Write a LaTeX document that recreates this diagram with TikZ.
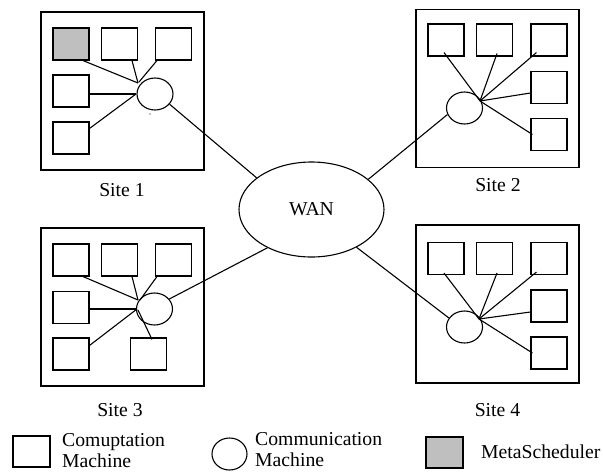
\documentclass[tikz,border=0pt]{standalone}
\usepackage{fontspec}
\setmainfont{Liberation Serif}
\usetikzlibrary{shapes.geometric}
\tikzset{
  lw/.style={line width=1.1pt},
  sitebox/.style={draw, lw, minimum width=163pt, minimum height=158pt, inner sep=0pt},
  compbox/.style={draw, lw, minimum width=36pt, minimum height=32pt, inner sep=0pt},
  metabox/.style={compbox, fill=gray!50},
  commell/.style={draw, lw, ellipse, minimum width=36pt, minimum height=32pt, inner sep=0pt},
  wannode/.style={draw, lw, ellipse, minimum width=145pt, minimum height=95pt, inner sep=0pt, font=\fontsize{19.7}{21.5}\selectfont},
  lbl/.style={inner sep=0pt, font=\fontsize{19.7}{21.5}\selectfont},
  link/.style={lw}
}
\begin{document}
\begin{tikzpicture}[x=1pt,y=-1pt]
\useasboundingbox (0,0) rectangle (603,472);
% WAN
\node[wannode] (wan) at (311.5,209.5) {WAN};

% Site 1
\node[sitebox] (s1) at (122.5,91) {};
\node[metabox] (s1a) at (71,44) {};
\node[compbox] (s1b) at (119.5,44) {};
\node[compbox] (s1c) at (173.5,44) {};
\node[compbox] (s1d) at (71,91) {};
\node[compbox] (s1e) at (71,138) {};
\node[commell] (c1) at (155,94) {};
\coordinate (h1a) at (138,83);
\coordinate (h1b) at (136,94);
\draw[link] ([xshift=12pt]s1a.south) -- (h1a);
\draw[link] ([xshift=12.5pt]s1b.south) -- (h1a);
\draw[link] ([xshift=2pt]s1c.south west) -- (139,82);
\draw[link] ([yshift=-3pt]s1d.east) -- (h1b);
\draw[link] ([yshift=-7pt]s1e.north east) -- (h1b);
\fill (150,114) circle (0.7pt);
\node[lbl] (l1) at (122,190) {Site 1};

% Site 2
\node[sitebox] (s2) at (497.5,88.5) {};
\node[compbox] (s2a) at (446,40) {};
\node[compbox] (s2b) at (494.5,40) {};
\node[compbox] (s2c) at (549,40) {};
\node[compbox] (s2d) at (549,87.5) {};
\node[compbox] (s2e) at (549,134.5) {};
\node[commell] (c2) at (464.5,108) {};
\coordinate (h2) at (480,101);
\draw[link] ([xshift=-2pt,yshift=4pt]s2a.south) -- (h2);
\draw[link] ([xshift=2.5pt,yshift=3pt]s2b.south) -- (h2);
\draw[link] ([xshift=6pt,yshift=4pt]s2c.south west) -- (h2);
\draw[link] ([yshift=-5.5pt]s2d.west) -- (h2);
\draw[link] ([xshift=2pt]s2e.west) -- (h2);
\node[lbl] (l2) at (498,185) {Site 2};

% Site 3
\node[sitebox] (s3) at (122.5,307) {};
\node[compbox] (s3a) at (71,260) {};
\node[compbox] (s3b) at (119.5,260) {};
\node[compbox] (s3c) at (173.5,260) {};
\node[compbox] (s3d) at (71,307.5) {};
\node[compbox] (s3e) at (71,354) {};
\node[compbox] (s3f) at (148.5,354) {};
\node[commell] (c3) at (154.5,309) {};
\coordinate (h3a) at (138,300);
\coordinate (h3b) at (137,309);
\draw[link] ([xshift=12pt]s3a.south) -- (h3a);
\draw[link] ([xshift=12.5pt]s3b.south) -- (h3a);
\draw[link] ([xshift=2pt]s3c.south west) -- (140,300);
\draw[link] ([yshift=-1.5pt]s3d.east) -- (h3b);
\draw[link] ([yshift=-8pt]s3e.north east) -- (h3b);
\draw[link] ([xshift=3.5pt,yshift=-2pt]s3f.north) -- (138,310);
\node[lbl] (l3) at (120,410) {Site 3};

% Site 4
\node[sitebox] (s4) at (497.5,304) {};
\node[compbox] (s4a) at (446,258.5) {};
\node[compbox] (s4b) at (494.5,258.5) {};
\node[compbox] (s4c) at (549,258.5) {};
\node[compbox] (s4d) at (549,306) {};
\node[compbox] (s4e) at (549,353) {};
\node[commell] (c4) at (464.5,327) {};
\coordinate (h4) at (479,319);
\draw[link] ([xshift=-2pt,yshift=2pt]s4a.south) -- (h4);
\draw[link] ([xshift=2.5pt,yshift=2pt]s4b.south) -- (h4);
\draw[link] ([xshift=6pt,yshift=3pt]s4c.south west) -- (h4);
\draw[link] ([yshift=-6pt]s4d.west) -- (h4);
\draw[link] ([xshift=2pt]s4e.west) -- (h4);
\node[lbl] (l4) at (497.5,410) {Site 4};

% WAN links
\draw[link] (c1.-35) -- (wan.150);
\draw[link] (c2.201) -- (wan.28);
\draw[link] (c3.34) -- (wan.221);
\draw[link] (c4.150) -- (wan.320);

% Legend
\node[compbox, minimum width=37pt, minimum height=31pt] (lg1) at (31.5,451.5) {};
\node[lbl, anchor=north west, align=left] (lt1) at (62,433) {Comuptation\\Machine};
\node[commell, minimum width=35pt, minimum height=32pt] (lg2) at (229.5,454) {};
\node[lbl, anchor=north west, align=left] (lt2) at (255,432) {Communication\\Machine};
\node[metabox, minimum width=37pt, minimum height=31pt] (lg3) at (444.5,452.5) {};
\node[lbl, anchor=base west] (lt3) at (481,458) {MetaScheduler};
\end{tikzpicture}
\end{document}
